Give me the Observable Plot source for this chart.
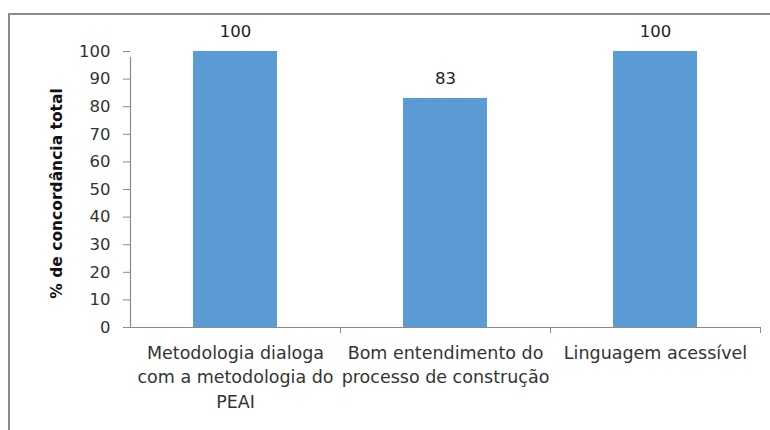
<!DOCTYPE html>
<html>
<head>
<meta charset="utf-8">
<script src="https://cdn.jsdelivr.net/npm/d3@7"></script>
<script src="https://cdn.jsdelivr.net/npm/@observablehq/plot@0.6"></script>
<style>
  html, body { margin: 0; padding: 0; background: #fff; }
  #wrap { position: relative; width: 770px; height: 430px; overflow: hidden; }
  #frame { position: absolute; left: 8px; top: 13px; width: 900px; height: 600px;
           border-top: 2px solid #8a8a8a; border-left: 2px solid #8a8a8a; }
  #chart { position: absolute; left: 0; top: 0; }
</style>
</head>
<body>
<div id="wrap"><div id="frame"></div><div id="chart"></div></div>
<script>
const categories = [
  "Metodologia dialoga\ncom a metodologia do\nPEAI",
  "Bom entendimento do\nprocesso de construção",
  "Linguagem acessível"
];
const values = [100, 83, 100];
const yTicks = [0, 10, 20, 30, 40, 50, 60, 70, 80, 90, 100];
const yLabel = "% de concordância total";

const data = categories.map((c, i) => ({category: c, value: values[i]}));
const step = 210;

const plot = Plot.plot({
  width: 770,
  height: 430,
  marginLeft: 130,
  marginRight: 10,
  marginTop: 51,
  marginBottom: 103,
  style: {fontFamily: "'DejaVu Sans', sans-serif", fontSize: "16px", color: "#333", background: "transparent"},
  x: {domain: categories, paddingInner: 0.6, paddingOuter: 0.3, label: null},
  y: {domain: [0, 100], label: null},
  marks: [
    Plot.barY(data, {x: "category", y: "value", fill: "#5B9BD5"}),
    Plot.ruleY([0], {stroke: "#8a8a8a", strokeWidth: 1.2}),
    Plot.ruleX([categories[0]], {x: d => d, dx: -step / 2, y1: 0, y2: 100, insetBottom: -6, stroke: "#8a8a8a", strokeWidth: 1.2}),
    Plot.ruleX(categories.slice(1), {x: d => d, dx: -step / 2, y1: 0, y2: 0, insetBottom: -6, stroke: "#8a8a8a"}),
    Plot.ruleX([categories[categories.length - 1]], {x: d => d, dx: step / 2, y1: 0, y2: 0, insetBottom: -6, stroke: "#8a8a8a"}),
    Plot.axisY({ticks: yTicks, tickSize: 7, tickPadding: 13, stroke: "#8a8a8a", fontSize: 16.5, label: null}),
    Plot.axisX({tickSize: 0, tickPadding: 14, fontSize: 17.5, lineHeight: 1.4, label: null}),
    Plot.text(data, {x: "category", y: "value", text: d => String(d.value), dy: -20, fontSize: 16.5, fill: "#222"}),
    Plot.text([yLabel], {frameAnchor: "left", textAnchor: "middle", rotate: -90, dx: -73, dy: 4, fontWeight: "bold", fontSize: 15.5, fill: "#111"})
  ]
});
document.getElementById("chart").appendChild(plot);
</script>
</body>
</html>
